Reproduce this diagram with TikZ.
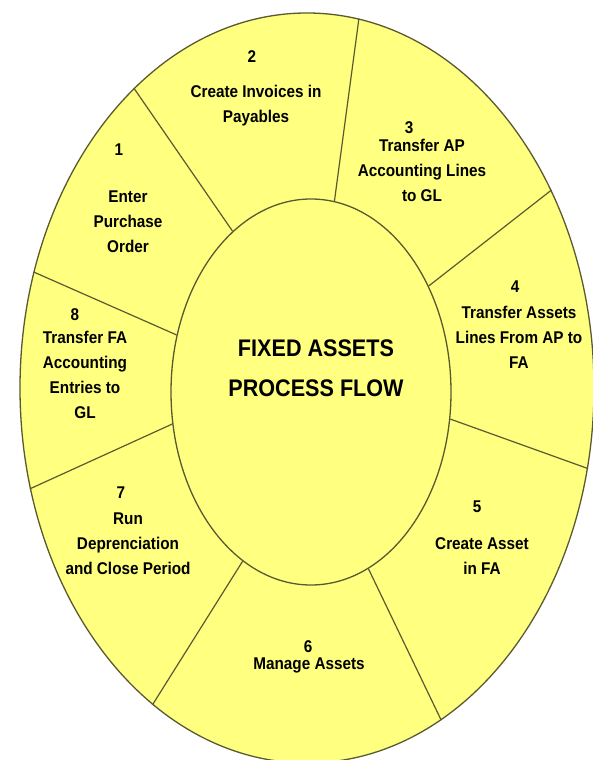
\documentclass[tikz,border=0pt]{standalone}
\usepackage{fontspec}
\setmainfont{Liberation Sans}[FakeStretch=0.9]
\usepackage{tikz}
\usetikzlibrary{shapes.geometric}
\definecolor{wheel}{HTML}{FFFF80}
\definecolor{rim}{HTML}{5A5A30}

\begin{document}
\begin{tikzpicture}[x=1pt,y=-1pt,
    ring/.style={ellipse,draw=rim,fill=wheel,line width=1.3pt,inner sep=0pt},
    lbl/.style={align=center,inner sep=0pt,font=\fontsize{17}{25}\selectfont\bfseries},
    ttl/.style={align=center,inner sep=0pt,font=\fontsize{24}{40}\selectfont\bfseries}]
        \useasboundingbox[fill=white] (0,0) rectangle (592,760);

        \path
        (307,388) node[ring,minimum width=574pt,minimum height=750pt](outer) {}
        (311,392) node[ring,minimum width=280pt,minimum height=386pt](inner) {}
        ;

        \draw[rim,line width=1.2pt] (inner.116) -- (outer.120);
        \draw[rim,line width=1.2pt] (inner.83) -- (outer.82);
        \draw[rim,line width=1.2pt] (inner.42) -- (outer.39);
        \draw[rim,line width=1.2pt] (inner.-11) -- (outer.-16);
        \draw[rim,line width=1.2pt] (inner.-72) -- (outer.-68);
        \draw[rim,line width=1.2pt] (inner.248) -- (outer.244);
        \draw[rim,line width=1.2pt] (inner.193) -- (outer.200);
        \draw[rim,line width=1.2pt] (inner.157) -- (outer.157);

        \path
        (119,150) node[lbl](n1) {1}
        (128,222) node[lbl](t1) {Enter\\Purchase\\Order}
        (252,57) node[lbl](n2) {2}
        (256,106) node[lbl](t2) {Create Invoices in\\Payables}
        (409,128) node[lbl](n3) {3}
        (422,170) node[lbl](t3) {Transfer AP\\Accounting Lines\\to GL}
        (515,287) node[lbl](n4) {4}
        (519,337) node[lbl](t4) {Transfer Assets\\Lines From AP to\\FA}
        (477,507) node[lbl](n5) {5}
        (482,556) node[lbl](t5) {Create Asset\\in FA}
        (308,647) node[lbl](n6) {6}
        (309,665) node[lbl](t6) {Manage Assets}
        (121,493) node[lbl](n7) {7}
        (128,544) node[lbl](t7) {Run\\Deprenciation\\and Close Period}
        (75,315) node[lbl](n8) {8}
        (85,375) node[lbl](t8) {Transfer FA\\Accounting\\Entries to\\GL}
        (316,368) node[ttl](title) {FIXED ASSETS\\PROCESS FLOW}
        ;
      \end{tikzpicture}
\end{document}
